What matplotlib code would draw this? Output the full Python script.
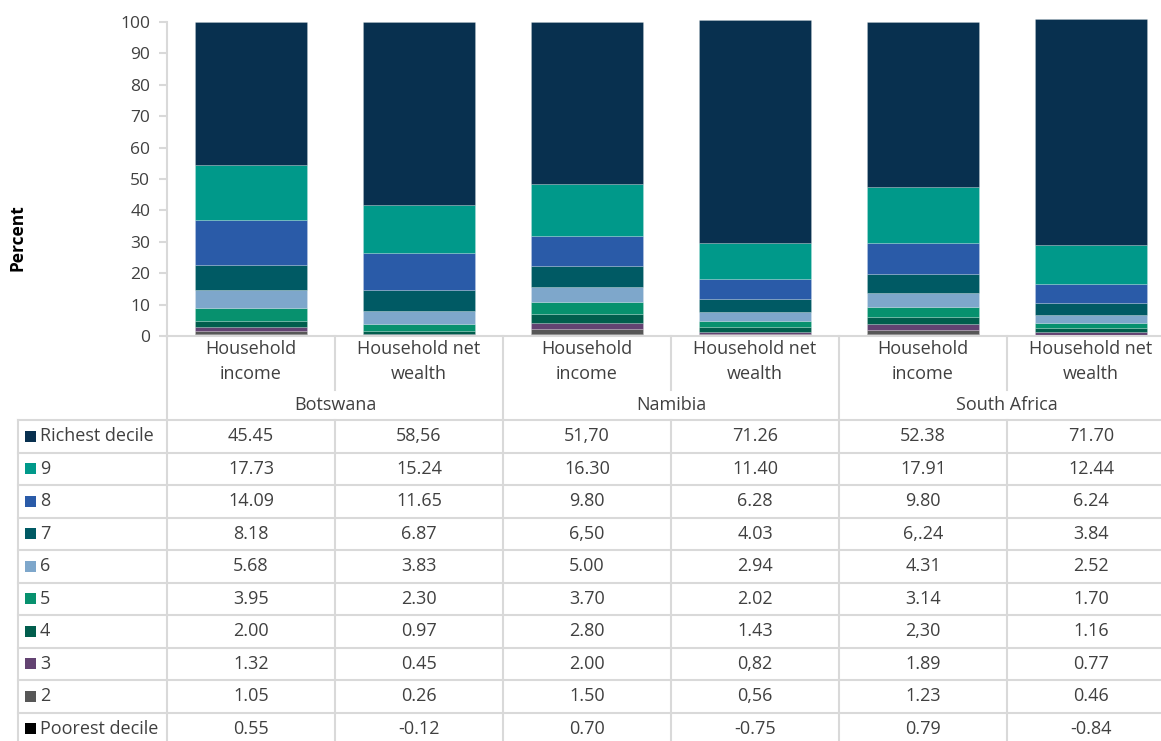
import matplotlib
matplotlib.use('Agg')
import matplotlib.pyplot as plt
import matplotlib.transforms as mtransforms
from matplotlib.lines import Line2D
from matplotlib.patches import Rectangle

plt.rcParams['font.family'] = ['Open Sans', 'DejaVu Sans']

# data as shown in the table (strings kept exactly as printed)
deciles = ['Richest decile', '9', '8', '7', '6', '5', '4', '3', '2', 'Poorest decile']
countries = ['Botswana', 'Namibia', 'South Africa']
measures = ['Household\nincome', 'Household net\nwealth']

bw_income = ['45.45', '17.73', '14.09', '8.18', '5.68', '3.95', '2.00', '1.32', '1.05', '0.55']
bw_wealth = ['58,56', '15.24', '11.65', '6.87', '3.83', '2.30', '0.97', '0.45', '0.26', '-0.12']
na_income = ['51,70', '16.30', '9.80', '6,50', '5.00', '3.70', '2.80', '2.00', '1.50', '0.70']
na_wealth = ['71.26', '11.40', '6.28', '4.03', '2.94', '2.02', '1.43', '0,82', '0,56', '-0.75']
sa_income = ['52.38', '17.91', '9.80', '6,.24', '4.31', '3.14', '2,30', '1.89', '1.23', '0.79']
sa_wealth = ['71.70', '12.44', '6.24', '3.84', '2.52', '1.70', '1.16', '0.77', '0.46', '-0.84']

columns = [bw_income, bw_wealth, na_income, na_wealth, sa_income, sa_wealth]

colors = ['#08304f', '#00998a', '#2a5ba8', '#005a64', '#7ea7cb',
          '#07916e', '#015e4d', '#634372', '#575757', '#000000']


def to_num(s):
    return float(s.replace(',.', '.').replace(',', '.'))


W, H = 1161, 741
fig = plt.figure(figsize=(W / 100, H / 100), dpi=100)

ax_left, ax_right, ax_top, ax_bot = 167, 1175, 22, 336
ax = fig.add_axes([ax_left / W, 1 - ax_bot / H, (ax_right - ax_left) / W, (ax_bot - ax_top) / H])

text_col = '#404040'
grid_col = '#d9d9d9'

# stacked bars: positives up from 0, negatives down from 0 (poorest at the bottom)
for ci, col in enumerate(columns):
    pos, neg = 0.0, 0.0
    for di in range(len(deciles) - 1, -1, -1):
        v = to_num(col[di])
        if v >= 0:
            ax.bar(ci, v, bottom=pos, width=0.667, color=colors[di],
                   edgecolor=(1, 1, 1, 0.25), linewidth=0.5, clip_on=False)
            pos += v
        else:
            ax.bar(ci, v, bottom=neg, width=0.667, color=colors[di], linewidth=0)
            neg += v

ax.set_xlim(-0.5, len(columns) - 0.5)
ax.set_ylim(0, 100)
ax.set_yticks(range(0, 101, 10))
ax.set_xticks([])
for s in ['top', 'right']:
    ax.spines[s].set_visible(False)
for s in ['left', 'bottom']:
    ax.spines[s].set_color(grid_col)
    ax.spines[s].set_linewidth(1.5)
ax.tick_params(axis='y', length=6, width=1.5, color=grid_col, labelcolor=text_col,
               labelsize=12.5, pad=6)
fig.text(17 / W, 1 - 238 / H, 'Percent', rotation=90, ha='center', va='center',
         fontsize=12.5, fontweight='bold', color='black')

# ---- table below the chart ----
bx = mtransforms.blended_transform_factory(ax.transData, fig.transFigure)


def fy(px):
    return 1 - px / H


def vline(x, y0, y1, trans):
    fig.add_artist(Line2D([x, x], [fy(y0), fy(y1)], transform=trans,
                          color=grid_col, linewidth=1.5))


def hline(x0, x1, y, trans):
    fig.add_artist(Line2D([x0, x1], [fy(y), fy(y)], transform=trans,
                          color=grid_col, linewidth=1.5))


fs = 13
row_top = 420
row_h = 32.5
tbl_bottom = row_top + row_h * len(deciles)

# header: measure labels and country labels
for ci in range(len(columns)):
    fig.text(ci, fy(362), measures[ci % 2], transform=bx, ha='center', va='center',
             fontsize=fs, color=text_col, linespacing=1.5)
for gi, c in enumerate(countries):
    fig.text(2 * gi + 0.5, fy(405), c, transform=bx, ha='center', va='center',
             fontsize=fs, color=text_col)

# vertical lines
vline(-0.5, ax_bot, tbl_bottom, bx)
for k in range(1, len(columns)):
    x = k - 0.5
    if k % 2 == 0:
        vline(x, ax_bot, tbl_bottom, bx)
    else:
        vline(x, ax_bot, 390, bx)
        vline(x, row_top, tbl_bottom, bx)
vline(18 / W, row_top, tbl_bottom, fig.transFigure)

# horizontal lines
for r in range(len(deciles) + 1):
    hline(18 / W, 1, row_top + r * row_h, fig.transFigure)

# rows
for di, name in enumerate(deciles):
    yc = row_top + row_h * (di + 0.5)
    fig.add_artist(Rectangle((25 / W, fy(yc + 5.5)), 11 / W, 11 / H,
                             transform=fig.transFigure, color=colors[di], linewidth=0))
    fig.text(40 / W, fy(yc), name, ha='left', va='center', fontsize=fs, color=text_col)
    for ci, col in enumerate(columns):
        fig.text(ci, fy(yc), col[di], transform=bx, ha='center', va='center',
                 fontsize=fs, color=text_col)

fig.savefig('out.png', dpi=100)
